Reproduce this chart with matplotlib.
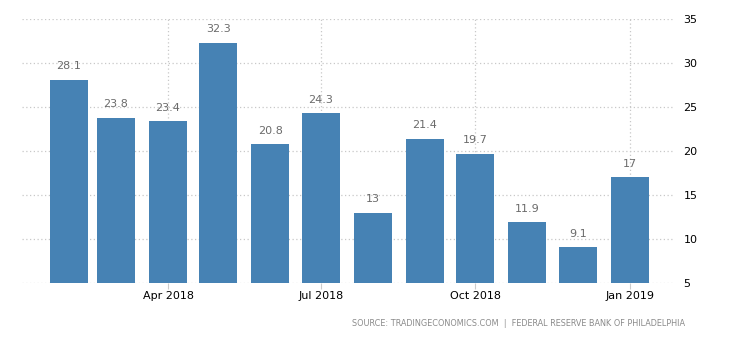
import matplotlib
matplotlib.use("Agg")
import matplotlib.pyplot as plt
import matplotlib.dates as mdates
from datetime import datetime

months = ["2018-02", "2018-03", "2018-04", "2018-05", "2018-06", "2018-07",
          "2018-08", "2018-09", "2018-10", "2018-11", "2018-12", "2019-01"]
values = [28.1, 23.8, 23.4, 32.3, 20.8, 24.3, 13, 21.4, 19.7, 11.9, 9.1, 17]
value_labels = ["28.1", "23.8", "23.4", "32.3", "20.8", "24.3", "13", "21.4",
                "19.7", "11.9", "9.1", "17"]
tick_months = ["2018-04", "2018-07", "2018-10", "2019-01"]
tick_labels = ["Apr 2018", "Jul 2018", "Oct 2018", "Jan 2019"]
y_ticks = [5, 10, 15, 20, 25, 30, 35]
source = "SOURCE: TRADINGECONOMICS.COM  |  FEDERAL RESERVE BANK OF PHILADELPHIA"

base = 5
dates = [datetime.strptime(m, "%Y-%m") for m in months]
x = mdates.date2num(dates)
tx = mdates.date2num([datetime.strptime(m, "%Y-%m") for m in tick_months])

fig = plt.figure(figsize=(7.3, 3.4), dpi=100)
ax = fig.add_axes([22 / 730, 57 / 340, (675 - 22) / 730, (283 - 19) / 340])

heights = [v - base for v in values]
ax.bar(x, heights, bottom=base, width=22.6, color="#4682b4", zorder=3)

for xi, v, lab in zip(x, values, value_labels):
    ax.annotate(lab, (xi, v), xytext=(0, 6), textcoords="offset points",
                ha="center", va="bottom", fontsize=8, color="#6b6b6b")

ax.set_xlim(x[0] - 28, tx[-1] + 27)
ax.set_ylim(5, 35)
ax.set_xticks(tx)
ax.set_xticklabels(tick_labels, fontsize=8, color="#000000")
ax.set_yticks(y_ticks)
ax.yaxis.tick_right()
ax.tick_params(axis="y", length=0, pad=6, labelsize=8, labelcolor="#000000")
ax.tick_params(axis="x", length=4, color="#cccccc", pad=2)

ax.grid(True, axis="both", linestyle=(0, (1, 2)), color="#c8c8c8", linewidth=0.9, zorder=0)
for s in ax.spines.values():
    s.set_visible(False)

fig.text(685 / 730, 1 - 324 / 340, source, ha="right", va="center",
         fontsize=5.9, color="#8a8a8a")

fig.savefig("out.png", dpi=100)
